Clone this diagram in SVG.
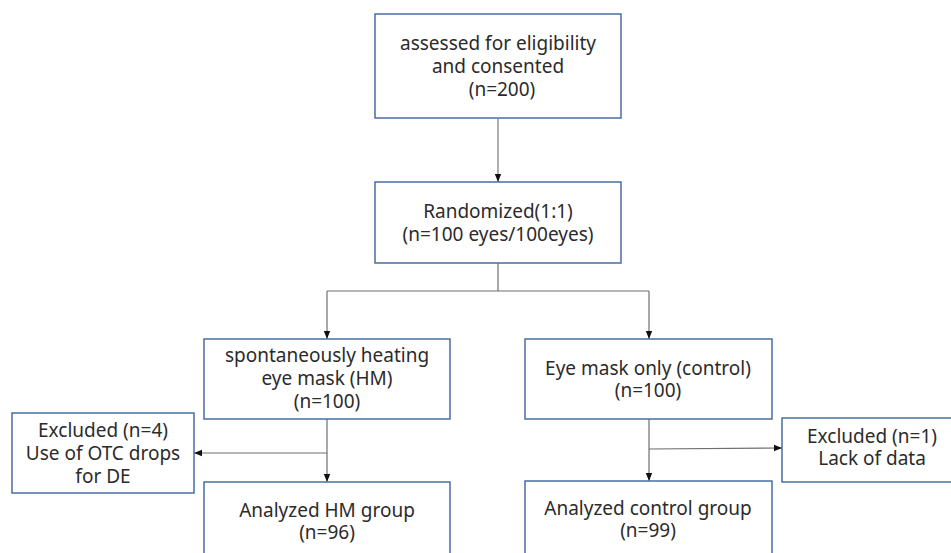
<svg xmlns="http://www.w3.org/2000/svg" width="951" height="553" viewBox="0 0 951 553">
<style>
.box{fill:#fff;stroke:#4a6da3;stroke-width:1.5}
.t{font-family:"Noto Sans","Noto Sans CJK JP",sans-serif;font-size:19px;fill:#2b2b2b;text-anchor:middle}
.c{fill:none;stroke:#6e6e6e;stroke-width:1.2}
.c2{fill:none;stroke:#a6a6a6;stroke-width:1.8}
</style>
<defs>
<marker id="ah" markerUnits="userSpaceOnUse" markerWidth="8" markerHeight="8" viewBox="0 0 8 8" refX="8" refY="4" orient="auto">
<path d="M0,0.8 L8,4 L0,7.2 Z" fill="#111"/>
</marker>
</defs>
<g id="connectors">
<path class="c2" d="M498,119 V182" marker-end="url(#ah)"/>
<path class="c" d="M498,263 V291"/>
<path class="c" d="M327,291 H649"/>
<path class="c" d="M327,291 V339" marker-end="url(#ah)"/>
<path class="c" d="M649,291 V339" marker-end="url(#ah)"/>
<path class="c" d="M327,419 V482" marker-end="url(#ah)"/>
<path class="c" d="M327,453 H194" marker-end="url(#ah)"/>
<path class="c" d="M649,419 V481" marker-end="url(#ah)"/>
<path class="c" d="M649,449 L782,448" marker-end="url(#ah)"/>
</g>
<g id="assessed">
<rect class="box" x="375" y="14" width="246" height="104"/>
<text class="t" x="498" y="50">assessed for eligibility</text>
<text class="t" x="498" y="73">and consented</text>
<text class="t" x="502" y="96">(n=200)</text>
</g>
<g id="randomized">
<rect class="box" x="375" y="182" width="246" height="81"/>
<text class="t" x="498" y="218">Randomized(1:1)</text>
<text class="t" x="498" y="241">(n=100 eyes/100eyes)</text>
</g>
<g id="hm">
<rect class="box" x="204" y="339" width="246" height="80"/>
<text class="t" x="327" y="362">spontaneously heating</text>
<text class="t" x="327" y="385">eye mask (HM)</text>
<text class="t" x="327" y="408">(n=100)</text>
</g>
<g id="control">
<rect class="box" x="525" y="339" width="247" height="80"/>
<text class="t" x="648" y="375">Eye mask only (control)</text>
<text class="t" x="648" y="397">(n=100)</text>
</g>
<g id="excluded-hm">
<rect class="box" x="12" y="413" width="182" height="80"/>
<text class="t" x="103" y="437">Excluded (n=4)</text>
<text class="t" x="103" y="460">Use of OTC drops</text>
<text class="t" x="103" y="483">for DE</text>
</g>
<g id="excluded-control">
<rect class="box" x="782" y="418" width="180" height="64"/>
<text class="t" x="872" y="443">Excluded (n=1)</text>
<text class="t" x="872" y="465">Lack of data</text>
</g>
<g id="analyzed-hm">
<rect class="box" x="204" y="482" width="246" height="80"/>
<text class="t" x="327" y="517">Analyzed HM group</text>
<text class="t" x="327" y="539">(n=96)</text>
</g>
<g id="analyzed-control">
<rect class="box" x="525" y="481" width="247" height="80"/>
<text class="t" x="648" y="515">Analyzed control group</text>
<text class="t" x="648" y="537">(n=99)</text>
</g>
</svg>
